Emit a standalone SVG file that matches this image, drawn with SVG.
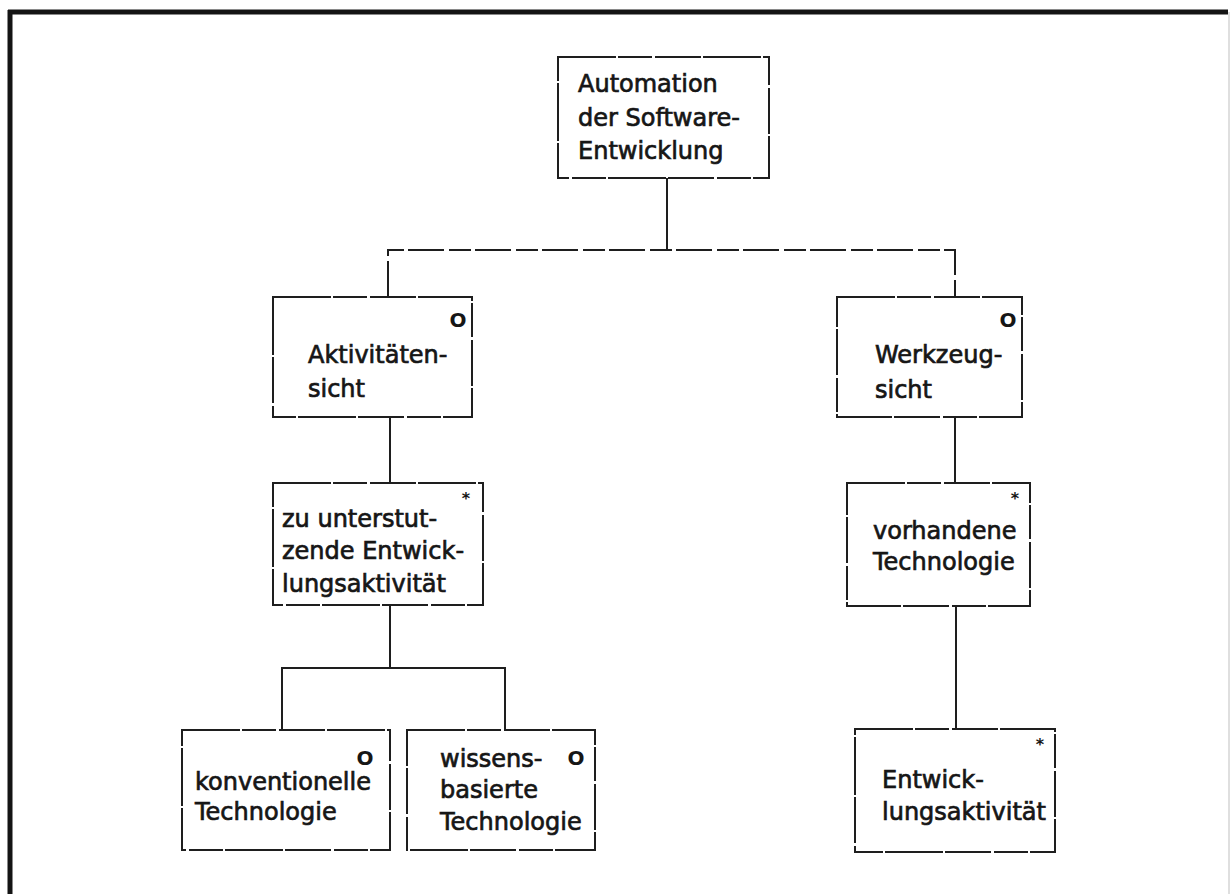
<svg xmlns="http://www.w3.org/2000/svg" width="1232" height="894" viewBox="0 0 1232 894">
  <style>
    .box { fill: none; stroke: #1e1e1e; stroke-width: 2; stroke-dasharray: 58 2 34 3 46 2; }
    .wire { fill: none; stroke: #1e1e1e; stroke-width: 2; }
    .dashwire { fill: none; stroke: #1e1e1e; stroke-width: 2; stroke-dasharray: 36 5 22 4; }
    .lbl { font-family: "DejaVu Sans", "Liberation Sans", sans-serif; font-size: 24px; fill: #161616; stroke: #161616; stroke-width: 0.7; }
    .mark { font-family: "DejaVu Sans", "Liberation Sans", sans-serif; font-size: 20px; font-weight: bold; fill: #161616; text-anchor: middle; }
    .star { font-family: "DejaVu Sans", "Liberation Sans", sans-serif; font-size: 16px; font-weight: bold; fill: #161616; text-anchor: middle; }
  </style>
  <rect width="1232" height="894" fill="#ffffff"/>

  <!-- page frame -->
  <g id="frame">
    <line x1="10" y1="10" x2="10" y2="894" stroke="#141414" stroke-width="5"/>
    <line x1="8" y1="12" x2="1228" y2="12" stroke="#141414" stroke-width="5"/>
    <line x1="1229" y1="12" x2="1229" y2="894" stroke="#d4d4d4" stroke-width="1.5"/>
  </g>

  <!-- connectors -->
  <g id="connectors">
    <path class="wire" d="M667 178 V250"/>
    <path class="dashwire" d="M388 297 V250 H955 V297"/>
    <path class="wire" d="M390 417 V483"/>
    <path class="wire" d="M390 605 V668"/>
    <path class="wire" d="M282 730 V668 H505 V730"/>
    <path class="wire" d="M955 417 V483"/>
    <path class="wire" d="M956 606 V729"/>
  </g>

  <g id="n-automation">
    <rect class="box" x="558" y="57" width="211" height="121"/>
    <text class="lbl" x="578" y="92">Automation</text>
    <text class="lbl" x="578" y="126">der Software-</text>
    <text class="lbl" x="578" y="159">Entwicklung</text>
  </g>

  <g id="n-aktivitaetensicht">
    <rect class="box" x="273" y="297" width="199" height="120"/>
    <text class="mark" x="458" y="327">O</text>
    <text class="lbl" x="308" y="363">Aktivitäten-</text>
    <text class="lbl" x="308" y="397">sicht</text>
  </g>

  <g id="n-werkzeugsicht">
    <rect class="box" x="837" y="297" width="185" height="120"/>
    <text class="mark" x="1008" y="327">O</text>
    <text class="lbl" x="875" y="363">Werkzeug-</text>
    <text class="lbl" x="875" y="398">sicht</text>
  </g>

  <g id="n-entwicklungsaktivitaet-links">
    <rect class="box" x="273" y="483" width="210" height="122"/>
    <text class="star" x="466" y="504">*</text>
    <text class="lbl" x="282" y="527">zu unterstut-</text>
    <text class="lbl" x="282" y="559">zende Entwick-</text>
    <text class="lbl" x="282" y="592">lungsaktivität</text>
  </g>

  <g id="n-vorhandene-technologie">
    <rect class="box" x="847" y="483" width="183" height="123"/>
    <text class="star" x="1015" y="504">*</text>
    <text class="lbl" x="873" y="539">vorhandene</text>
    <text class="lbl" x="873" y="570">Technologie</text>
  </g>

  <g id="n-konventionelle">
    <rect class="box" x="182" y="730" width="208" height="120"/>
    <text class="mark" x="365" y="765">O</text>
    <text class="lbl" x="195" y="790">konventionelle</text>
    <text class="lbl" x="195" y="820">Technologie</text>
  </g>

  <g id="n-wissensbasierte">
    <rect class="box" x="407" y="730" width="188" height="120"/>
    <text class="mark" x="576" y="765">O</text>
    <text class="lbl" x="440" y="767">wissens-</text>
    <text class="lbl" x="440" y="798">basierte</text>
    <text class="lbl" x="440" y="830">Technologie</text>
  </g>

  <g id="n-entwicklungsaktivitaet-rechts">
    <rect class="box" x="855" y="729" width="200" height="123"/>
    <text class="star" x="1040" y="750">*</text>
    <text class="lbl" x="882" y="788">Entwick-</text>
    <text class="lbl" x="882" y="820">lungsaktivität</text>
  </g>
</svg>
